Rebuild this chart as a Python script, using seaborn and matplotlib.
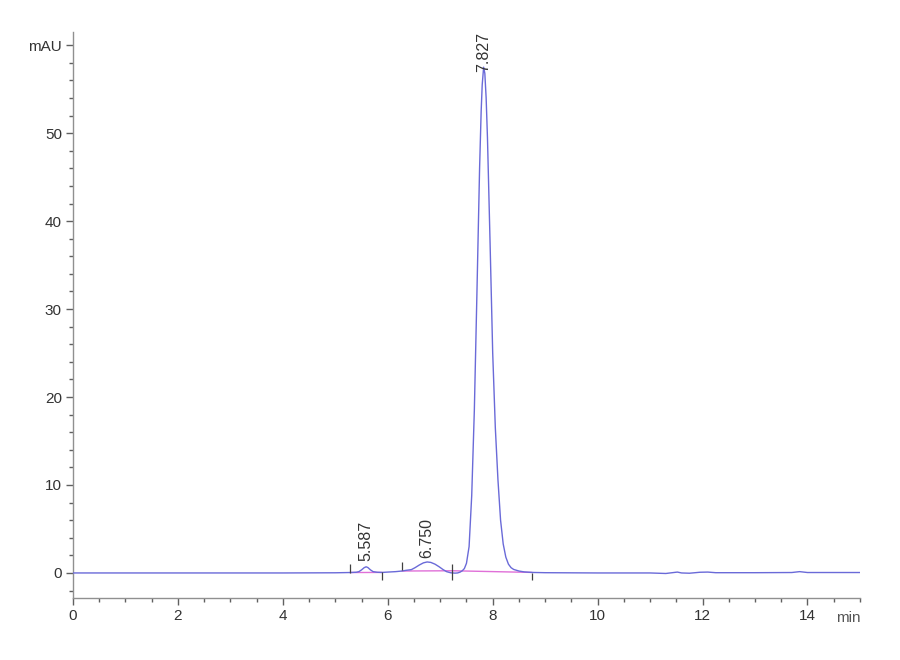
import seaborn as sns
import matplotlib.pyplot as plt
from matplotlib.ticker import MultipleLocator, FixedLocator

# 크로마토그램 데이터
time_min = [0, 1, 2, 3, 4, 5, 5.28, 5.40, 5.45, 5.50, 5.55, 5.587, 5.62, 5.67, 5.72, 5.80,
            5.89, 6.00, 6.15, 6.27, 6.35, 6.45, 6.52, 6.60, 6.68, 6.75, 6.82, 6.90, 6.98,
            7.05, 7.12, 7.20, 7.28, 7.33, 7.38, 7.42, 7.46, 7.50, 7.55, 7.60, 7.65, 7.70,
            7.75, 7.78, 7.80, 7.827, 7.85, 7.875, 7.90, 7.95, 8.00, 8.05, 8.10, 8.15, 8.20,
            8.25, 8.30, 8.35, 8.40, 8.50, 8.60, 8.75, 9, 10, 11, 11.3, 11.45, 11.52, 11.6,
            11.75, 11.95, 12.1, 12.25, 13, 13.7, 13.85, 14.0, 15]
signal_mau = [0.0, 0.0, 0.0, 0.0, 0.0, 0.02, 0.05, 0.08, 0.15, 0.35, 0.6, 0.7, 0.62, 0.35, 0.15, 0.08,
              0.06, 0.1, 0.15, 0.22, 0.3, 0.38, 0.6, 0.9, 1.15, 1.25, 1.2, 1.0, 0.7,
              0.4, 0.15, 0.02, -0.02, 0.0, 0.1, 0.25, 0.5, 1.1, 3.0, 8.8, 18.5, 32.0,
              46.0, 52.5, 55.5, 57.5, 56.8, 54.0, 49.5, 37.5, 25.0, 16.5, 10.6, 6.0, 3.3,
              1.8, 1.0, 0.6, 0.4, 0.22, 0.12, 0.06, 0.03, 0.0, 0.0, -0.06, 0.05, 0.1, 0.0,
              -0.03, 0.08, 0.1, 0.03, 0.03, 0.05, 0.15, 0.05, 0.05]

# 피크 정보
peak_rt = [5.587, 6.750, 7.827]
peak_height = [0.7, 1.25, 57.5]
peak_labels = ['5.587', '6.750', '7.827']
label_gap = [0.7, 0.5, -0.5]   # 라벨과 피크 꼭대기 사이 간격

# 적분 베이스라인 (시작, 끝)
base_start_t = [5.28, 6.27, 7.23]
base_start_y = [0.05, 0.22, 0.25]
base_end_t = [5.89, 7.23, 8.75]
base_end_y = [0.06, 0.25, 0.06]

# 피크 경계 표시
mark_t = [5.28, 5.89, 6.27, 7.23, 8.75]
mark_lo = [0.05, -0.8, 0.3, -0.8, -0.8]
mark_hi = [1.0, 0.1, 1.2, 1.0, 0.0]

sns.set_style('white')
plt.rcParams['font.family'] = ['Liberation Sans', 'DejaVu Sans']

fig = plt.figure(figsize=(9, 6.6), dpi=100)
ax = fig.add_axes([0.0811, 0.0939, 0.8744, 0.8576])

for t0, y0, t1, y1 in zip(base_start_t, base_start_y, base_end_t, base_end_y):
    ax.plot([t0, t1], [y0, y1], color='#e070d8', lw=1.0, zorder=2)

sns.lineplot(x=time_min, y=signal_mau, sort=False, estimator=None,
             color='#6a6ad8', lw=1.0, ax=ax, zorder=3)

ax.vlines(mark_t, mark_lo, mark_hi, color='#404040', lw=0.9, zorder=4)

for rt, h, lab, g in zip(peak_rt, peak_height, peak_labels, label_gap):
    ax.text(rt, h + g, lab, rotation=90, ha='center', va='bottom',
            fontsize=11.5, color='#333333', zorder=5)

ax.set_xlim(0, 15)
ax.set_ylim(-2.85, 61.5)

ax.xaxis.set_major_locator(FixedLocator([0, 2, 4, 6, 8, 10, 12, 14]))
ax.xaxis.set_minor_locator(MultipleLocator(0.5))
ax.yaxis.set_major_locator(FixedLocator([0, 10, 20, 30, 40, 50, 60]))
ax.yaxis.set_minor_locator(MultipleLocator(2))
ax.set_yticklabels(['0', '10', '20', '30', '40', '50', 'mAU'])

for s in ['top', 'right']:
    ax.spines[s].set_visible(False)
for s in ['left', 'bottom']:
    ax.spines[s].set_color('#909090')
    ax.spines[s].set_linewidth(1.0)

ax.tick_params(which='major', direction='out', length=5, width=1, color='#606060',
               labelsize=11, labelcolor='#333333', left=True, bottom=True, pad=3)
ax.tick_params(which='minor', direction='out', length=3, width=1, color='#606060',
               left=True, bottom=True)

ax.text(14.78, -4.35, 'min', ha='center', va='top', fontsize=11, color='#555555',
        clip_on=False)

fig.savefig('out.png', dpi=100)
